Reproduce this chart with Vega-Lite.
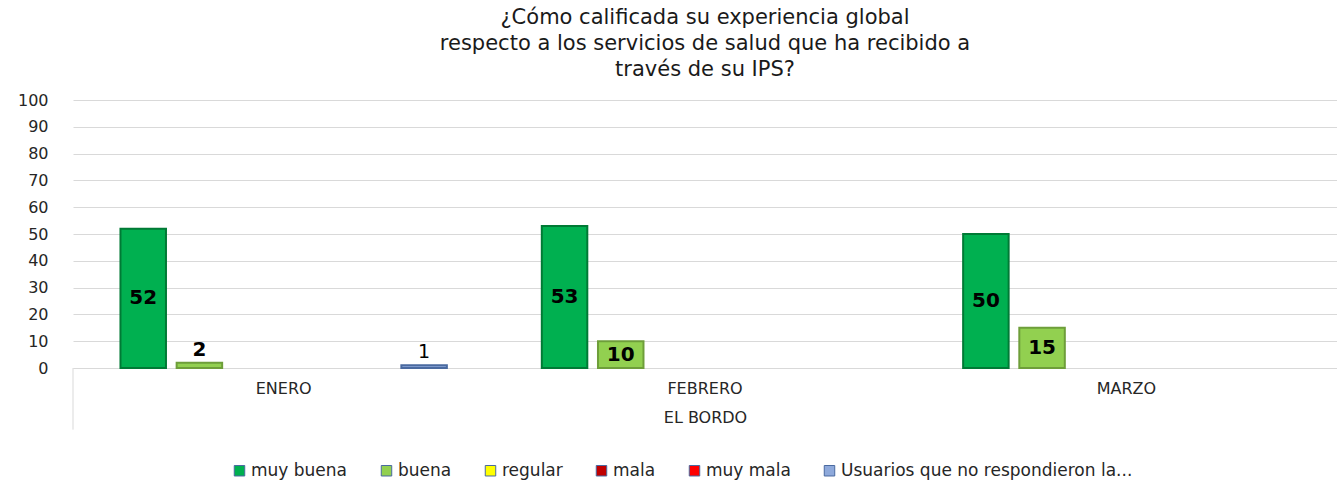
{
  "$schema": "https://vega.github.io/schema/vega-lite/v6.json",
  "width": 1264,
  "height": 268,
  "autosize": {"type": "none"},
  "padding": {"left": 73, "top": 100, "right": 0, "bottom": 113},
  "background": "white",
  "title": {
    "text": ["¿Cómo calificada su experiencia global", "respecto a los servicios de salud que ha recibido a", "través de su IPS?"],
    "font": "DejaVu Sans",
    "fontSize": 21,
    "fontWeight": "normal",
    "color": "#1a1a1a",
    "lineHeight": 26,
    "anchor": "middle",
    "offset": 12
  },
  "config": {
    "view": {"stroke": null},
    "axisX": {
      "labelFont": "DejaVu Sans",
      "labelFontSize": 16,
      "labelColor": "#262626",
      "labelPadding": 12,
      "labelAngle": 0,
      "titleFont": "DejaVu Sans",
      "titleFontSize": 16,
      "titleFontWeight": "normal",
      "titleColor": "#262626",
      "titlePadding": 13,
      "ticks": false,
      "domain": true,
      "domainColor": "#d9d9d9",
      "grid": false
    },
    "axisY": {
      "labelFont": "DejaVu Sans",
      "labelFontSize": 16,
      "labelColor": "#262626",
      "labelPadding": 25,
      "ticks": false,
      "domain": false,
      "grid": true,
      "gridColor": "#d9d9d9",
      "gridWidth": 1,
      "title": null
    },
    "legend": {
      "labelFont": "DejaVu Sans",
      "labelFontSize": 17,
      "labelColor": "#262626",
      "labelLimit": 0,
      "symbolType": "square",
      "symbolSize": 110,
      "symbolStrokeWidth": 1,
      "columnPadding": 30,
      "labelOffset": 3
    }
  },
  "data": {
    "values": [
      {"mes": "ENERO", "serie": "muy buena", "valor": 52},
      {"mes": "ENERO", "serie": "buena", "valor": 2},
      {"mes": "ENERO", "serie": "Usuarios que no respondieron la...", "valor": 1},
      {"mes": "FEBRERO", "serie": "muy buena", "valor": 53},
      {"mes": "FEBRERO", "serie": "buena", "valor": 10},
      {"mes": "MARZO", "serie": "muy buena", "valor": 50},
      {"mes": "MARZO", "serie": "buena", "valor": 15}
    ]
  },
  "encoding": {
    "x": {
      "field": "mes",
      "type": "nominal",
      "sort": ["ENERO", "FEBRERO", "MARZO"],
      "scale": {"domain": ["ENERO", "FEBRERO", "MARZO"], "paddingInner": 0.2, "paddingOuter": 0.1},
      "axis": {"title": "EL BORDO"}
    },
    "xOffset": {
      "field": "serie",
      "type": "nominal",
      "scale": {
        "domain": ["muy buena", "buena", "regular", "mala", "muy mala", "Usuarios que no respondieron la..."],
        "paddingInner": 0.19,
        "paddingOuter": 0.095
      }
    }
  },
  "layer": [
    {
      "mark": {"type": "bar", "strokeWidth": 2},
      "encoding": {
        "y": {
          "field": "valor",
          "type": "quantitative",
          "scale": {"domain": [0, 100]},
          "axis": {"title": null, "values": [0, 10, 20, 30, 40, 50, 60, 70, 80, 90, 100]}
        },
        "color": {
          "field": "serie",
          "type": "nominal",
          "scale": {
            "domain": ["muy buena", "buena", "regular", "mala", "muy mala", "Usuarios que no respondieron la..."],
            "range": ["#00B050", "#92D050", "#FFFF00", "#C00000", "#FF0000", "#8EA9DB"]
          },
          "legend": {
            "title": null,
            "orient": "none",
            "direction": "horizontal",
            "legendX": 158,
            "legendY": 362
          }
        },
        "stroke": {
          "condition": [
            {"test": "datum.serie == 'muy buena'", "value": "#007a35"},
            {"test": "datum.serie == 'buena'", "value": "#6e9e3a"}
          ],
          "value": "#4a6aa0"
        }
      }
    },
    {
      "transform": [
        {"filter": "datum.valor >= 5"},
        {"calculate": "datum.valor / 2", "as": "mitad"}
      ],
      "mark": {"type": "text", "font": "DejaVu Sans", "fontSize": 20, "fontWeight": "bold", "color": "#000000", "baseline": "middle"},
      "encoding": {
        "y": {"field": "mitad", "type": "quantitative", "axis": {"title": null, "values": [0, 10, 20, 30, 40, 50, 60, 70, 80, 90, 100]}},
        "text": {"field": "valor", "type": "quantitative"}
      }
    },
    {
      "transform": [{"filter": "datum.valor < 5 && datum.serie == 'buena'"}],
      "mark": {"type": "text", "font": "DejaVu Sans", "fontSize": 20, "fontWeight": "bold", "color": "#000000", "baseline": "bottom", "dy": -3},
      "encoding": {
        "y": {"field": "valor", "type": "quantitative", "axis": {"title": null, "values": [0, 10, 20, 30, 40, 50, 60, 70, 80, 90, 100]}},
        "text": {"field": "valor", "type": "quantitative"}
      }
    },
    {
      "transform": [{"filter": "datum.valor < 5 && datum.serie != 'buena'"}],
      "mark": {"type": "text", "font": "DejaVu Sans", "fontSize": 19, "fontWeight": "normal", "color": "#000000", "baseline": "bottom", "dy": -3},
      "encoding": {
        "y": {"field": "valor", "type": "quantitative", "axis": {"title": null, "values": [0, 10, 20, 30, 40, 50, 60, 70, 80, 90, 100]}},
        "text": {"field": "valor", "type": "quantitative"}
      }
    },
    {
      "data": {"values": [{"mes": "ENERO"}]},
      "mark": {"type": "rule", "color": "#d9d9d9", "strokeWidth": 1},
      "encoding": {
        "x": {"field": "mes", "type": "nominal", "bandPosition": -0.125, "axis": {"title": "EL BORDO"}},
        "xOffset": null,
        "y": {"datum": 0, "type": "quantitative", "axis": {"title": null, "values": [0, 10, 20, 30, 40, 50, 60, 70, 80, 90, 100]}},
        "y2": {"datum": -23}
      }
    }
  ]
}
